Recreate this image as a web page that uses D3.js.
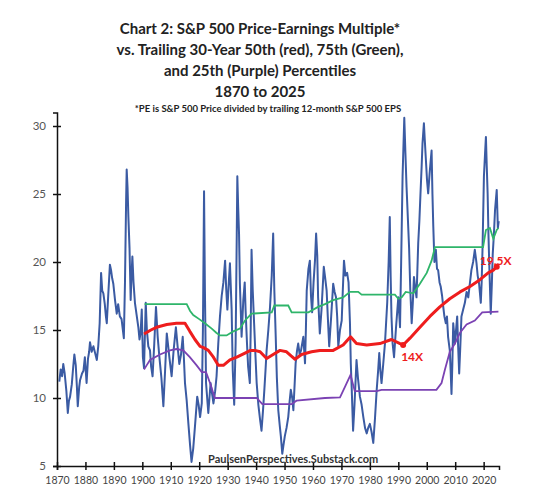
<!DOCTYPE html>
<meta charset="utf-8">
<script src="https://d3js.org/d3.v7.min.js"></script>
<style>
  body { margin: 0; background: #fff; }
  text { font-family: Lato, "Open Sans", sans-serif; }
</style>
<body>
<div id="chart"></div>
<script>
// values, [year, PE]
var pe = [
  [1870.8, 11.2], [1871.3, 12.1], [1871.8, 11.6], [1872.2, 12.5], [1872.7, 11.8], [1873.3, 10.5],
  [1873.8, 8.9], [1874.2, 9.8], [1874.6, 10.1], [1875.2, 11.0], [1875.7, 12.3], [1876.1, 13.2],
  [1876.6, 12.4], [1877.0, 10.8], [1877.3, 9.4], [1877.8, 10.8], [1878.1, 11.3], [1878.8, 11.8],
  [1879.3, 12.0], [1879.8, 13.0], [1880.4, 11.1], [1880.9, 12.9], [1881.3, 13.4], [1881.6, 14.1],
  [1882.2, 13.4], [1882.8, 13.8], [1883.4, 13.3], [1884.0, 12.8], [1884.5, 13.8], [1885.0, 15.5],
  [1885.5, 19.2], [1885.9, 17.9], [1886.3, 17.7], [1886.8, 16.9], [1887.2, 16.0], [1887.5, 15.5],
  [1888.0, 17.5], [1888.6, 19.8], [1889.0, 19.4], [1889.4, 18.8], [1889.8, 18.4], [1890.4, 17.2],
  [1891.0, 16.2], [1891.5, 16.9], [1892.1, 16.0], [1892.7, 15.8], [1893.5, 14.4], [1893.9, 18.5],
  [1894.3, 24.5], [1894.5, 26.8], [1894.8, 25.5], [1895.1, 23.3], [1895.5, 21.0], [1895.9, 17.2],
  [1896.2, 19.0], [1896.5, 20.4], [1896.9, 18.5], [1897.4, 17.0], [1898.0, 16.1], [1898.6, 15.2],
  [1899.0, 14.3], [1899.4, 14.8], [1899.8, 16.5], [1900.2, 13.0], [1900.6, 12.2], [1901.2, 17.0],
  [1901.6, 15.0], [1902.1, 13.8], [1902.7, 13.5], [1903.1, 12.3], [1903.6, 11.6], [1904.2, 14.0],
  [1904.8, 16.7], [1905.4, 14.5], [1906.0, 13.0], [1906.7, 11.5], [1907.4, 9.4], [1908.0, 12.0],
  [1908.6, 14.75], [1909.0, 14.0], [1909.5, 13.0], [1910.3, 11.6], [1911.0, 13.5], [1911.8, 15.2],
  [1912.4, 13.8], [1913.0, 12.5], [1913.6, 13.2], [1914.2, 14.5], [1914.6, 13.0], [1915.0, 11.1],
  [1915.6, 9.8], [1916.2, 8.1], [1916.8, 6.5], [1917.3, 5.3], [1917.9, 6.3], [1918.5, 7.9],
  [1918.9, 9.0], [1919.3, 10.1], [1919.8, 9.5], [1920.3, 8.6], [1920.9, 9.6], [1921.3, 15.0],
  [1921.7, 25.2], [1922.0, 18.0], [1922.4, 11.1], [1923.2, 8.9], [1924.0, 11.1], [1925.0, 9.6],
  [1925.6, 10.5], [1926.1, 11.6], [1926.7, 14.0], [1927.3, 16.0], [1927.9, 17.5], [1928.5, 18.5],
  [1929.1, 20.1], [1929.5, 18.0], [1929.9, 16.5], [1930.4, 18.5], [1930.8, 19.9], [1931.4, 16.5],
  [1931.8, 12.0], [1932.3, 9.5], [1932.8, 14.0], [1933.2, 22.0], [1933.4, 26.3], [1933.7, 24.0],
  [1934.0, 22.1], [1934.3, 18.4], [1934.9, 14.5], [1935.5, 17.2], [1936.0, 18.5], [1936.3, 16.5],
  [1936.8, 14.0], [1937.2, 12.3], [1937.8, 11.1], [1938.1, 15.0], [1938.4, 20.9], [1938.8, 18.0],
  [1939.3, 15.5], [1939.8, 13.0], [1940.2, 11.1], [1940.8, 9.5], [1941.4, 8.4], [1941.9, 7.6],
  [1942.4, 9.0], [1942.9, 10.6], [1943.3, 12.0], [1943.7, 13.5], [1944.3, 15.0], [1944.9, 16.7],
  [1945.5, 19.0], [1946.0, 22.1], [1946.4, 18.0], [1946.9, 14.5], [1947.3, 11.5], [1947.8, 9.1],
  [1948.3, 8.0], [1948.7, 7.2], [1949.2, 5.9], [1949.6, 6.5], [1950.1, 7.2], [1950.7, 7.8],
  [1951.3, 8.6], [1951.8, 9.8], [1952.2, 10.6], [1952.7, 10.0], [1953.1, 9.1], [1953.5, 10.8],
  [1953.9, 12.55], [1954.4, 13.5], [1954.8, 14.0], [1955.3, 13.2], [1955.8, 13.5], [1956.2, 14.0],
  [1956.6, 14.5], [1957.2, 12.55], [1957.5, 15.0], [1957.8, 17.9], [1958.4, 19.5], [1958.9, 20.1],
  [1959.3, 17.5], [1959.7, 16.3], [1960.2, 18.5], [1960.7, 20.1], [1961.1, 22.1], [1961.5, 20.5],
  [1961.8, 17.4], [1962.4, 14.75], [1963.0, 16.5], [1963.8, 19.65], [1964.3, 18.8], [1964.8, 17.9],
  [1965.2, 16.0], [1965.7, 13.8], [1966.4, 16.0], [1967.1, 18.4], [1967.6, 17.8], [1968.1, 17.4],
  [1968.5, 16.0], [1968.9, 13.8], [1969.5, 15.0], [1970.1, 15.7], [1970.5, 18.0], [1970.9, 20.1],
  [1971.4, 19.0], [1972.0, 19.2], [1972.5, 18.5], [1973.0, 15.5], [1973.3, 12.5], [1973.6, 10.8],
  [1974.1, 7.6], [1974.6, 9.5], [1975.3, 12.8], [1975.8, 11.5], [1976.5, 10.1], [1977.1, 9.5],
  [1977.7, 8.6], [1978.3, 7.8], [1978.9, 7.4], [1979.4, 7.8], [1980.0, 8.1], [1980.6, 7.5],
  [1981.2, 6.7], [1981.8, 8.5], [1982.4, 10.6], [1982.9, 12.0], [1983.3, 13.3], [1983.7, 12.0],
  [1984.1, 11.1], [1984.7, 12.5], [1985.3, 14.0], [1985.7, 15.5], [1986.1, 17.0], [1986.6, 20.0],
  [1987.0, 23.3], [1987.3, 19.0], [1987.6, 16.0], [1988.0, 14.0], [1988.5, 13.0], [1989.2, 15.2],
  [1990.0, 17.4], [1990.6, 15.2], [1991.0, 20.0], [1991.5, 26.3], [1992.1, 30.6], [1992.5, 28.0],
  [1992.9, 25.5], [1993.4, 23.0], [1993.8, 21.0], [1994.2, 18.0], [1994.7, 15.5], [1995.1, 17.0],
  [1995.5, 18.9], [1996.0, 18.0], [1996.4, 17.4], [1997.0, 21.4], [1997.4, 23.0], [1997.8, 25.05],
  [1998.2, 27.0], [1998.5, 28.7], [1999.0, 30.2], [1999.3, 29.0], [1999.7, 27.5], [2000.1, 26.0],
  [2000.5, 25.05], [2001.0, 26.5], [2001.4, 27.5], [2001.7, 28.2], [2002.0, 25.0], [2002.3, 22.6],
  [2002.7, 20.0], [2003.2, 20.9], [2003.6, 19.5], [2004.0, 19.4], [2004.5, 18.5], [2004.9, 18.2],
  [2005.4, 17.5], [2005.8, 16.7], [2006.2, 16.0], [2006.7, 15.5], [2007.1, 16.0], [2007.5, 14.5],
  [2008.1, 13.5], [2008.4, 12.0], [2008.7, 10.3], [2009.0, 12.5], [2009.3, 15.5], [2009.6, 14.8],
  [2009.9, 14.0], [2010.3, 15.0], [2010.7, 16.0], [2011.0, 14.0], [2011.4, 11.8], [2011.8, 13.8],
  [2012.2, 16.0], [2012.8, 16.5], [2013.4, 17.0], [2014.0, 17.8], [2014.6, 17.4], [2015.2, 18.5],
  [2015.7, 19.4], [2016.3, 20.0], [2016.9, 20.9], [2017.5, 19.9], [2017.9, 19.0], [2018.4, 18.4],
  [2019.0, 17.0], [2019.3, 18.5], [2019.6, 20.9], [2020.1, 26.3], [2020.5, 28.0], [2020.8, 29.2],
  [2021.1, 27.0], [2021.4, 25.05], [2021.7, 22.0], [2022.0, 19.65], [2022.5, 16.2], [2022.9, 18.5],
  [2023.2, 20.6], [2023.6, 22.0], [2024.0, 23.8], [2024.6, 25.3], [2025.0, 22.5], [2025.3, 23.0]
];

// trailing 30-year 50th percentile (red)
var p50 = [
  [1900.6, 14.7], [1903, 15.0], [1905, 15.2], [1908.6, 15.4], [1912, 15.5], [1915, 15.5],
  [1916.7, 14.9], [1918.5, 14.3], [1920.3, 13.8], [1921.5, 13.7], [1923.2, 13.5], [1925, 13.0],
  [1926.7, 12.4], [1928.5, 12.4], [1930.8, 12.8], [1933.2, 13.0], [1936.1, 13.3], [1938, 13.5],
  [1939.6, 13.5], [1941.4, 13.4], [1943.7, 12.9], [1946, 13.2], [1948.4, 13.5], [1950.7, 13.4],
  [1952.3, 13.1], [1953.7, 12.85], [1956, 13.2], [1959.5, 13.4], [1962.4, 13.5], [1967.1, 13.5],
  [1970.6, 13.9], [1973.2, 14.5], [1975.3, 14.0], [1978.9, 13.9], [1983.5, 14.0], [1987.6, 14.3],
  [1990.6, 14.0], [1991.7, 13.9], [1994.1, 14.4], [1997.6, 15.2], [2001.1, 16.0], [2004.6, 16.7],
  [2008.1, 17.3], [2011.7, 17.8], [2015.2, 18.2], [2018.7, 18.7], [2021.6, 19.2], [2023.4, 19.4],
  [2024.6, 19.65]
];

// trailing 30-year 75th percentile (green)
var p75 = [
  [1900.8, 16.9], [1915.6, 16.9], [1916.8, 16.4], [1917.9, 16.1], [1920, 15.8], [1922, 15.5],
  [1924.4, 15.1], [1926, 14.8], [1927.3, 14.6], [1929.6, 14.6], [1932, 14.9], [1934.3, 15.1],
  [1936.1, 15.7], [1938.4, 16.2], [1945.5, 16.3], [1946.4, 16.8], [1951.3, 16.8], [1952.5, 16.3],
  [1958.4, 16.3], [1961.8, 16.7], [1964.2, 16.9], [1967.1, 17.2], [1970.6, 17.4], [1973, 17.8],
  [1975.9, 17.8], [1977.1, 17.6], [1988.8, 17.6], [1990, 17.3], [1991.2, 17.4], [1992.6, 17.8],
  [1995.3, 17.7], [1997.6, 18.4], [2000, 19.2], [2001.7, 20.1], [2002.9, 21.1], [2019.8, 21.1],
  [2020.8, 22.35], [2022.2, 22.5], [2023.4, 21.7], [2024.6, 22.35], [2025.2, 22.5]
];

// trailing 30-year 25th percentile (purple)
var p25 = [
  [1900.6, 12.1], [1901.5, 12.4], [1902.7, 12.8], [1906.2, 13.2], [1909.7, 13.5], [1912, 13.6],
  [1914.4, 13.5], [1916.7, 13.0], [1919.1, 12.4], [1920.9, 11.9], [1922.4, 11.9], [1923.8, 11.1],
  [1925.5, 10.0], [1940.2, 10.0], [1942.2, 9.55], [1952.5, 9.55], [1954.2, 9.8], [1964.2, 10.0],
  [1969.5, 10.05], [1971.2, 10.8], [1973.2, 11.7], [1974.7, 10.5], [1982.4, 10.5], [1984.1, 10.6],
  [2003.4, 10.6], [2005.2, 11.1], [2006.4, 12.1], [2008.1, 13.4], [2009.9, 14.0], [2011.7, 14.8],
  [2014, 15.4], [2016.9, 15.7], [2019.5, 16.3], [2025.2, 16.35]
];

// labelled points on the median line
var callouts = [
  { year: 1991.7, value: 13.9, label: "14X" },
  { year: 2024.6, value: 19.65, label: "19.5X" }
];

var xTicks = [1870, 1880, 1890, 1900, 1910, 1920, 1930, 1940, 1950, 1960, 1970, 1980, 1990, 2000, 2010, 2020];
var yTicks = [5, 10, 15, 20, 25, 30];

var titleLines = [
  "Chart 2: S&P 500 Price-Earnings Multiple*",
  "vs. Trailing 30-Year 50th (red), 75th (Green),",
  "and 25th (Purple) Percentiles",
  "1870 to 2025"
];
var footnote = "*PE is S&P 500 Price divided by trailing 12-month S&P 500 EPS";
var credit = "PaulsenPerspectives.Substack.com";

var width = 550, height = 502;

var svg = d3.select("#chart")
  .append("svg")
    .attr("width", width)
    .attr("height", height);

var x = d3.scaleLinear().domain([1870, 2025.4]).range([57, 499]);
var y = d3.scaleLinear().domain([5, 31]).range([466, 112.4]);

// titles
svg.selectAll(".title")
  .data(titleLines)
  .enter().append("text")
    .attr("class", "title")
    .attr("x", 260)
    .attr("y", function(d, i) { return 34 + i * 21; })
    .attr("text-anchor", "middle")
    .style("font-size", "15px")
    .style("font-weight", "bold")
    .style("fill", "#222")
    .text(function(d) { return d; });

svg.append("text")
  .attr("x", 268)
  .attr("y", 112)
  .attr("text-anchor", "middle")
  .style("font-size", "9.5px")
  .style("font-weight", "bold")
  .style("fill", "#222")
  .text(footnote);

// X axis
var xAxis = svg.append("g")
  .attr("transform", "translate(0," + y(5) + ")")
  .call(d3.axisBottom(x).tickValues(xTicks).tickFormat(d3.format("d")).tickSizeOuter(0).tickSize(4));
xAxis.select(".domain").attr("stroke", "#111").attr("stroke-width", 1.5);
xAxis.selectAll(".tick line").attr("y1", -4).attr("y2", 4).attr("stroke", "#111").attr("stroke-width", 1.5);
xAxis.selectAll(".tick text")
  .attr("y", 11)
  .style("font-size", "10.5px")
  .style("font-family", "Lato, sans-serif")
  .style("fill", "#444");

// Y axis
var yAxis = svg.append("g")
  .attr("transform", "translate(" + x(1870) + ",0)")
  .call(d3.axisLeft(y).tickValues(yTicks).tickSizeOuter(0).tickSize(4));
yAxis.select(".domain").attr("stroke", "#111").attr("stroke-width", 1.5);
yAxis.selectAll(".tick line").attr("x1", 4).attr("x2", -4).attr("stroke", "#111").attr("stroke-width", 1.5);
yAxis.selectAll(".tick text")
  .attr("x", -11)
  .style("font-size", "11.5px")
  .style("font-family", "Lato, sans-serif")
  .style("fill", "#555");

var line = d3.line()
  .x(function(d) { return x(d[0]); })
  .y(function(d) { return y(d[1]); });

svg.append("path")
  .datum(pe)
  .attr("fill", "none")
  .attr("stroke", "#3b5ba3")
  .attr("stroke-width", 2)
  .attr("stroke-linejoin", "round")
  .attr("d", line);

svg.append("path")
  .datum(p75)
  .attr("fill", "none")
  .attr("stroke", "#2fb56a")
  .attr("stroke-width", 1.8)
  .attr("d", line);

svg.append("path")
  .datum(p25)
  .attr("fill", "none")
  .attr("stroke", "#7b42b3")
  .attr("stroke-width", 1.8)
  .attr("d", line);

svg.append("path")
  .datum(p50)
  .attr("fill", "none")
  .attr("stroke", "#ee1d1d")
  .attr("stroke-width", 3)
  .attr("stroke-linejoin", "round")
  .attr("d", line);

// callouts
svg.selectAll(".dot")
  .data(callouts)
  .enter().append("circle")
    .attr("cx", function(d) { return x(d.year); })
    .attr("cy", function(d) { return y(d.value); })
    .attr("r", 3)
    .attr("fill", "#ee1d1d");

svg.append("text")
  .attr("x", x(callouts[0].year) - 2)
  .attr("y", y(callouts[0].value) + 16)
  .style("font-size", "12px")
  .style("font-weight", "bold")
  .style("fill", "#ee1d1d")
  .text(callouts[0].label);

svg.append("text")
  .attr("x", x(callouts[1].year) - 17)
  .attr("y", y(callouts[1].value) - 2)
  .style("font-size", "12px")
  .style("font-weight", "bold")
  .style("fill", "#ee1d1d")
  .text(callouts[1].label);

// credit line
svg.append("text")
  .attr("x", 208)
  .attr("y", 463)
  .style("font-size", "11px")
  .style("font-weight", "bold")
  .style("fill", "#333")
  .text(credit);

</script>
</body>
